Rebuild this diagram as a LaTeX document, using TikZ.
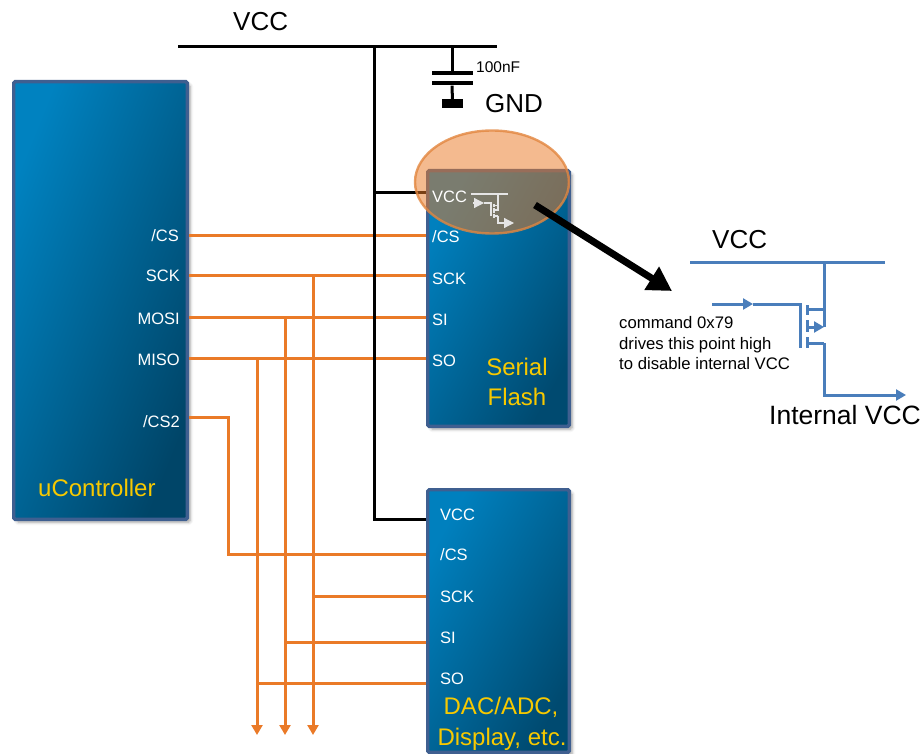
\documentclass[tikz,border=0pt]{standalone}
\usepackage{xcolor}
\usepackage{fontspec}
\setmainfont{Liberation Sans}
\usetikzlibrary{arrows.meta,positioning,shapes.geometric,shadows.blur}
\definecolor{chipedge}{HTML}{3F5F90}
\definecolor{chiptop}{HTML}{0080BE}
\definecolor{chipmid}{HTML}{00689C}
\definecolor{chipbot}{HTML}{004A70}
\definecolor{uctop}{HTML}{0082C0}
\definecolor{ucbot}{HTML}{004568}
\definecolor{wireorange}{HTML}{EA7A28}
\definecolor{spotedge}{HTML}{E2863F}
\definecolor{fetblue}{HTML}{4A7EBB}
\definecolor{chipyellow}{HTML}{F7C900}
\tikzset{
  chipbox/.style={
    rectangle, draw=chipedge, line width=3.4pt, rounded corners=1.5pt,
    top color=chiptop, middle color=chipmid, bottom color=chipbot, shading angle=61,
    anchor=north west, inner sep=0pt,
    blur shadow={shadow xshift=3pt, shadow yshift=-3pt, shadow blur radius=3pt, shadow opacity=35}
  },
  pinlabel/.style={
    text=white, font=\fontsize{16.5}{20}\selectfont, inner sep=0pt, anchor=base west
  },
  chipname/.style={
    text=chipyellow, font=\fontsize{24}{29}\selectfont, inner sep=0pt, anchor=base
  },
  railtext/.style={
    font=\fontsize{26}{31}\selectfont, inner sep=0pt, anchor=base west
  },
  notetext/.style={
    font=\fontsize{16.7}{20}\selectfont, inner sep=0pt, anchor=base west
  },
  capplate/.style={
    rectangle, fill=black, minimum width=41pt, minimum height=4pt, inner sep=0pt
  },
  rail/.style={line width=3pt, black},
  wire/.style={line width=3pt, wireorange},
  wiredown/.style={wire, -{Triangle[length=10pt,width=11pt]}},
  fetline/.style={line width=3pt, fetblue},
  fetarrow/.style={fetline, -{Triangle[length=10pt,width=11pt]}},
  tinyfet/.style={line width=1.2pt, white!90!black},
  tinyarrow/.style={tinyfet, -{Triangle[length=10pt,width=10pt]}},
}
\begin{document}
\begin{tikzpicture}[x=1pt, y=-1pt]
    \useasboundingbox (0,0) rectangle (924,754);
    \node[chipbox, top color=uctop, middle color=chipmid, bottom color=ucbot, shading angle=68,
          minimum width=173.6pt, minimum height=437.6pt] (uc) at (12,80) {};
    \node[chipbox, minimum width=141.6pt, minimum height=255.6pt] (flash) at (426,169) {};
    \node[chipbox, minimum width=141.6pt, minimum height=262.6pt] (dac) at (426,488) {};

    % levels of the wires
    \coordinate (csy) at (0,236);
    \coordinate (scky) at (0,276);
    \coordinate (mosiy) at (0,317);
    \coordinate (misoy) at (0,358);
    \coordinate (cstwoy) at (0,417);
    \coordinate (dcsy) at (0,554);
    \coordinate (dscky) at (0,596);
    \coordinate (dsiy) at (0,642);
    \coordinate (dsoy) at (0,683);
    \coordinate (endy) at (0,735);
    \coordinate (cstwox) at (228,0);
    \coordinate (sckx) at (313,0);
    \coordinate (mosix) at (285,0);
    \coordinate (misox) at (257,0);

    \draw[wire] (uc.east |- csy) -- (flash.west |- csy);
    \draw[wire] (uc.east |- scky) -- (flash.west |- scky);
    \draw[wire] (uc.east |- mosiy) -- (flash.west |- mosiy);
    \draw[wire] (uc.east |- misoy) -- (flash.west |- misoy);
    \draw[wire] (uc.east |- cstwoy) -| (cstwox |- dcsy) -- (dac.west |- dcsy);
    \draw[wiredown] (sckx |- scky) -- (sckx |- endy);
    \draw[wiredown] (mosix |- mosiy) -- (mosix |- endy);
    \draw[wiredown] (misox |- misoy) -- (misox |- endy);
    \draw[wire] (sckx |- dscky) -- (dac.west |- dscky);
    \draw[wire] (mosix |- dsiy) -- (dac.west |- dsiy);
    \draw[wire] (misox |- dsoy) -- (dac.west |- dsoy);

    % supply
    \coordinate (busl) at (178,47);
    \coordinate (busr) at (497,47);
    \coordinate (busdrop) at (374,47);
    \coordinate (capdrop) at (452,47);
    \draw[rail] (busl) -- (busr);
    \draw[rail] (busdrop) |- (dac.west |- 0,519);
    \draw[rail] (busdrop |- 0,193) -- (flash.west |- 0,193);
    \node[capplate] (plateup) at (452,73) {};
    \node[capplate, below=6pt of plateup] (platedown) {};
    \node[rectangle, fill=black, minimum width=21pt, minimum height=9pt, inner sep=0pt] (gndblock) at (452.5,103.5) {};
    \draw[rail] (capdrop) -- (plateup);
    \draw[rail] (platedown) -- (gndblock);
    \node[railtext] (vccmain) at (233,31) {VCC};
    \node[railtext] (gndtext) at (485,113) {GND};
    \node[notetext, font=\fontsize{15.5}{19}\selectfont] (captext) at (476,73) {100nF};

    % highlight
    \node[ellipse, draw=spotedge, line width=2.4pt, fill=wireorange, fill opacity=.52, draw opacity=.8,
          minimum width=154pt, minimum height=103pt, inner sep=0pt] (spot) at (492,182) {};

    % pins
    \node[pinlabel, anchor=base east] (uccs) at (179,242) {/CS};
    \node[pinlabel, anchor=base east] (ucsck) at (180,282) {SCK};
    \node[pinlabel, anchor=base east] (ucmosi) at (180,324) {MOSI};
    \node[pinlabel, anchor=base east] (ucmiso) at (180,365) {MISO};
    \node[pinlabel, anchor=base east] (uccstwo) at (180,427) {/CS2};
    \node[pinlabel] (flvcc) at (432,203) {VCC};
    \node[pinlabel] (flcs) at (432,243) {/CS};
    \node[pinlabel] (flsck) at (432,284) {SCK};
    \node[pinlabel] (flsi) at (432,325) {SI};
    \node[pinlabel] (flso) at (432,366) {SO};
    \node[pinlabel] (dacvcc) at (440,520) {VCC};
    \node[pinlabel] (daccs) at (440,560) {/CS};
    \node[pinlabel] (dacsck) at (440,602) {SCK};
    \node[pinlabel] (dacsi) at (440,643) {SI};
    \node[pinlabel] (dacso) at (440,684) {SO};
    \node[chipname, anchor=base west] (ucname) at (38,496) {uController};
    \node[chipname] (flname) at (517,375) {Serial};
    \node[chipname] (flnametwo) at (517,405) {Flash};
    \node[chipname] (dacname) at (501,714) {DAC/ADC,};
    \node[chipname] (dacnametwo) at (502,745) {Display, etc.};

    % small switch on the flash
    \coordinate (tinyd) at (498,194);
    \coordinate (tinys) at (498,216);
    \draw[tinyfet] (471,194) -- (508,194);
    \draw[tinyfet] (tinyd) -- (498,210) -- (494,210);
    \draw[tinyarrow] (473,203) -- (484,203);
    \draw[tinyfet] (484,203) -- (491,203) -- (491,216);
    \draw[tinyfet] (494,204) -- (494,207) (494,208) -- (494,213) (494,214) -- (494,218);
    \draw[tinyfet] (494,205.5) -- (498,205.5);
    \draw[tinyfet] (494,216) -- (tinys);
    \draw[tinyarrow] (tinys) |- (514,223);

    \coordinate (calltail) at (535,205);
    \coordinate (callhead) at (672,291);
    \draw[line width=7pt, -{Triangle[length=24pt,width=26pt]}] (calltail) -- (callhead);

    % enlarged switch
    \coordinate (fetbusl) at (690,263);
    \coordinate (fetbusr) at (885,263);
    \coordinate (fettop) at (824,263);
    \coordinate (fetmid) at (824,327);
    \coordinate (fetlow) at (824,343);
    \coordinate (fetout) at (906,395);
    \coordinate (gatein) at (712,304);
    \coordinate (gatemid) at (753,304);
    \coordinate (gatebar) at (800,304);
    \draw[fetline] (fetbusl) -- (fetbusr);
    \draw[fetline] (fettop) -- (fetmid);
    \draw[fetarrow] (gatein) -- (gatemid);
    \draw[fetline] (gatemid) -- (gatebar) -- (800,348);
    \draw[fetline] (807,305) -- (807,315) (807,320) -- (807,332) (807,337) -- (807,348);
    \draw[fetline] (807,309) -- (824,309);
    \draw[fetarrow] (807,327) -- (fetmid);
    \draw[fetline] (807,343) -- (fetlow);
    \draw[fetarrow] (fetlow) |- (fetout);
    \node[railtext] (vccright) at (712,249) {VCC};
    \node[railtext, font=\fontsize{26.5}{32}\selectfont] (internal) at (769,424) {Internal VCC};
    \node[notetext] (noteone) at (619,328) {command 0x79};
    \node[notetext] (notetwo) at (619,349) {drives this point high};
    \node[notetext] (notethree) at (619,369) {to disable internal VCC};
\end{tikzpicture}
\end{document}
